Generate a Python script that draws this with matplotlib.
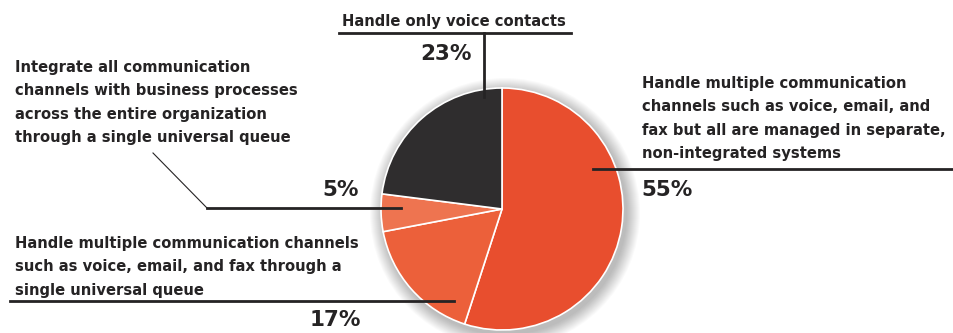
import numpy as np
import matplotlib.pyplot as plt
from matplotlib.patches import Circle

# share of organisations per contact-channel approach
shares = [55, 17, 5, 23]
colours = ['#E84E2E', '#EC603A', '#EE7450', '#2F2D2E']
pct_labels = ['55%', '17%', '5%', '23%']

desc_55 = ['Handle multiple communication',
           'channels such as voice, email, and',
           'fax but all are managed in separate,',
           'non-integrated systems']
desc_17 = ['Handle multiple communication channels',
           'such as voice, email, and fax through a',
           'single universal queue']
desc_5 = ['Integrate all communication',
          'channels with business processes',
          'across the entire organization',
          'through a single universal queue']
desc_23 = ['Handle only voice contacts']

W, H = 954, 333
ink = '#252324'
fam = ['DejaVu Sans']

fig = plt.figure(figsize=(W / 100, H / 100), dpi=100)
ax = fig.add_axes([0, 0, 1, 1])

def Y(y):
    # pixel rows counted from the top
    return H - y

cx, cy, r = 502, Y(209), 121

# soft drop shadow behind the pie
for i in range(14):
    ax.add_patch(Circle((cx + 3, cy - 4), r + 14 - i, color='#000000',
                        alpha=0.018, lw=0, zorder=1))

ax.pie(shares, colors=colours, startangle=90, counterclock=False,
       center=(cx, cy), radius=r, frame=True,
       wedgeprops=dict(edgecolor='white', linewidth=1.2, zorder=3))
ax.set_xlim(0, W)
ax.set_ylim(0, H)
ax.set_aspect('equal')
ax.axis('off')

def block(lines, x, y0, step=23.3, size=10.6):
    for k, s in enumerate(lines):
        ax.text(x, Y(y0 + k * step), s, fontsize=size, fontweight='bold',
                color=ink, family=fam, ha='left', va='baseline', zorder=5)

def pct(s, x, y):
    ax.text(x, Y(y), s, fontsize=15.5, fontweight='bold', color=ink,
            family=fam, ha='center', va='center', zorder=5)

lw = 2.0
# 23% - voice only
block(desc_23, 342, 26)
ax.plot([339, 571], [Y(33), Y(33)], color=ink, lw=lw, zorder=5)
ax.plot([484, 484], [Y(33), Y(97)], color=ink, lw=lw, zorder=5)
pct(pct_labels[3], 446, 54)

# 5% - integrated with business processes
block(desc_5, 15, 72)
ax.plot([153, 207], [Y(153), Y(208)], color=ink, lw=0.8, zorder=5)
ax.plot([207, 401], [Y(208), Y(208)], color=ink, lw=lw, zorder=5)
pct(pct_labels[2], 341, 190)

# 17% - universal queue
block(desc_17, 15, 248)
ax.plot([10, 454], [Y(301), Y(301)], color=ink, lw=lw, zorder=5)
pct(pct_labels[1], 335, 320)

# 55% - separate systems
block(desc_55, 642, 88)
ax.plot([593, 954], [Y(169), Y(169)], color=ink, lw=lw, zorder=5)
pct(pct_labels[0], 667, 190)

fig.savefig('out.png', dpi=100, facecolor='white')
